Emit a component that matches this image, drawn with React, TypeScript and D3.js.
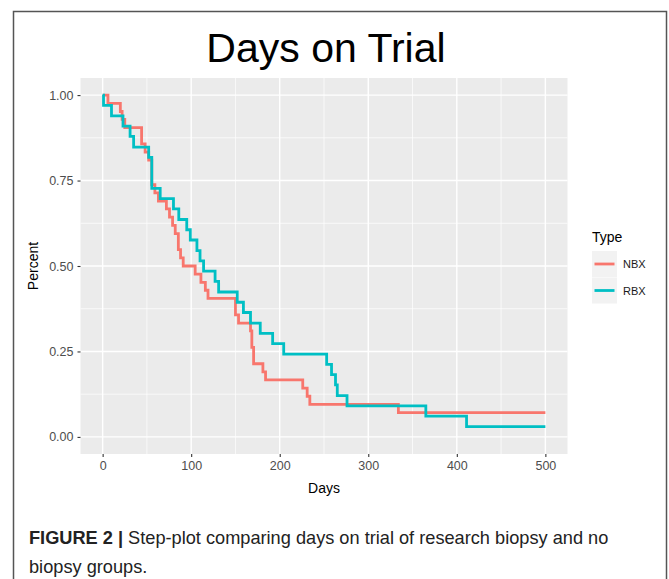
import React, { useEffect, useRef } from 'react';
import * as d3 from 'd3';

// Kaplan-Meier style step data (time in days, fraction remaining)
const nbxDays = [0, 6, 20, 22, 25, 44, 48, 52, 55.5, 59, 63, 72, 75.5, 79, 82, 85.5, 88, 91, 104.5, 111, 116, 119, 150, 153.5, 167, 168.5, 170.5, 181, 184, 226, 231, 234, 334, 500];
const nbxPct = [1.0, 0.976, 0.952, 0.929, 0.905, 0.857, 0.833, 0.81, 0.738, 0.714, 0.69, 0.667, 0.643, 0.619, 0.595, 0.548, 0.524, 0.5, 0.476, 0.452, 0.429, 0.405, 0.357, 0.333, 0.31, 0.262, 0.214, 0.19, 0.167, 0.143, 0.119, 0.095, 0.071, 0.071];

const rbxDays = [0, 1, 10, 23, 31, 35, 52, 55.5, 65, 80, 86, 95, 99, 106.5, 110, 114, 127, 131, 152, 159, 167, 178, 192, 204.5, 253, 258.5, 263, 265, 276, 365, 411, 500];
const rbxPct = [1.0, 0.97, 0.939, 0.909, 0.879, 0.848, 0.818, 0.727, 0.697, 0.667, 0.636, 0.606, 0.576, 0.545, 0.515, 0.485, 0.455, 0.424, 0.394, 0.364, 0.333, 0.303, 0.273, 0.242, 0.212, 0.182, 0.152, 0.121, 0.091, 0.061, 0.03, 0.03];

const seriesNames = ['NBX', 'RBX'];
const seriesColors = ['#F8766D', '#00BFC4'];
const xTicks = [0, 100, 200, 300, 400, 500];
const xMinor = [50, 150, 250, 350, 450];
const yTicks = [0, 0.25, 0.5, 0.75, 1];
const yMinor = [0.125, 0.375, 0.625, 0.875];

const W = 669;
const H = 579;

const App = () => {
  const ref = useRef<SVGSVGElement>(null);

  useEffect(() => {
    const svg = d3.select(ref.current);
    svg.selectAll('*').remove();

    const font = "'Liberation Sans', Arial, sans-serif";

    // figure frame
    svg.append('rect')
      .attr('x', 13.5).attr('y', 11.5)
      .attr('width', 653).attr('height', 600)
      .attr('fill', 'white')
      .attr('stroke', '#555')
      .attr('stroke-width', 1.5);

    // panel
    const panel = { left: 80.5, right: 567.5, top: 78, bottom: 454 };
    const x = d3.scaleLinear().domain([-25, 525]).range([panel.left, panel.right]);
    const y = d3.scaleLinear().domain([-0.05, 1.05]).range([panel.bottom, panel.top]);

    svg.append('rect')
      .attr('x', panel.left).attr('y', panel.top)
      .attr('width', panel.right - panel.left)
      .attr('height', panel.bottom - panel.top)
      .attr('fill', '#EBEBEB');

    const grid = svg.append('g');
    grid.selectAll('.xminor').data(xMinor).enter().append('line')
      .attr('x1', d => x(d)).attr('x2', d => x(d))
      .attr('y1', panel.top).attr('y2', panel.bottom)
      .attr('stroke', 'white').attr('stroke-width', 0.7);
    grid.selectAll('.yminor').data(yMinor).enter().append('line')
      .attr('y1', d => y(d)).attr('y2', d => y(d))
      .attr('x1', panel.left).attr('x2', panel.right)
      .attr('stroke', 'white').attr('stroke-width', 0.7);
    grid.selectAll('.xmajor').data(xTicks).enter().append('line')
      .attr('x1', d => x(d)).attr('x2', d => x(d))
      .attr('y1', panel.top).attr('y2', panel.bottom)
      .attr('stroke', 'white').attr('stroke-width', 1.4);
    grid.selectAll('.ymajor').data(yTicks).enter().append('line')
      .attr('y1', d => y(d)).attr('y2', d => y(d))
      .attr('x1', panel.left).attr('x2', panel.right)
      .attr('stroke', 'white').attr('stroke-width', 1.4);

    // step lines
    const line = d3.line<[number, number]>()
      .x(d => x(d[0]))
      .y(d => y(d[1]))
      .curve(d3.curveStepAfter);

    const series = [
      nbxDays.map((d, i) => [d, nbxPct[i]] as [number, number]),
      rbxDays.map((d, i) => [d, rbxPct[i]] as [number, number]),
    ];
    series.forEach((pts, i) => {
      svg.append('path')
        .attr('d', line(pts))
        .attr('fill', 'none')
        .attr('stroke', seriesColors[i])
        .attr('stroke-width', 2.8);
    });

    // axes
    const xAxis = svg.append('g')
      .attr('transform', `translate(0,${panel.bottom})`)
      .call(d3.axisBottom(x).tickValues(xTicks).tickSize(3).tickPadding(4).tickFormat(d3.format('d')));
    const yAxis = svg.append('g')
      .attr('transform', `translate(${panel.left},0)`)
      .call(d3.axisLeft(y).tickValues(yTicks).tickSize(3).tickPadding(4).tickFormat(d3.format('.2f')));
    [xAxis, yAxis].forEach(ax => {
      ax.select('.domain').remove();
      ax.selectAll('line').attr('stroke', '#333').attr('stroke-width', 1.1);
      ax.selectAll('text')
        .attr('fill', '#4D4D4D')
        .style('font-family', font)
        .style('font-size', '12.5px');
    });

    // titles
    svg.append('text')
      .attr('x', (panel.left + panel.right) / 2 + 2)
      .attr('y', 62)
      .attr('text-anchor', 'middle')
      .style('font-family', font)
      .style('font-size', '41px')
      .text('Days on Trial');

    svg.append('text')
      .attr('x', (panel.left + panel.right) / 2)
      .attr('y', 493)
      .attr('text-anchor', 'middle')
      .style('font-family', font)
      .style('font-size', '14px')
      .text('Days');

    svg.append('text')
      .attr('transform', `translate(38,${(panel.top + panel.bottom) / 2}) rotate(-90)`)
      .attr('text-anchor', 'middle')
      .style('font-family', font)
      .style('font-size', '14px')
      .text('Percent');

    // legend
    const legend = svg.append('g').attr('transform', 'translate(592,0)');
    legend.append('text')
      .attr('x', 0).attr('y', 242)
      .style('font-family', font)
      .style('font-size', '14px')
      .text('Type');
    seriesNames.forEach((name, i) => {
      const cy = 264 + i * 26.5;
      legend.append('rect')
        .attr('x', 0).attr('y', cy - 13)
        .attr('width', 25).attr('height', 26)
        .attr('fill', '#F2F2F2');
      legend.append('line')
        .attr('x1', 2.5).attr('x2', 22.5)
        .attr('y1', cy).attr('y2', cy)
        .attr('stroke', seriesColors[i])
        .attr('stroke-width', 2.8);
      legend.append('text')
        .attr('x', 31).attr('y', cy + 4)
        .style('font-family', font)
        .style('font-size', '11px')
        .attr('fill', '#1a1a1a')
        .text(name);
    });

    // caption
    const cap = svg.append('text')
      .attr('x', 29).attr('y', 544)
      .style('font-family', font)
      .style('font-size', '18.2px')
      .attr('fill', '#222');
    cap.append('tspan').style('font-weight', 'bold').text('FIGURE 2 | ');
    cap.append('tspan').text('Step-plot comparing days on trial of research biopsy and no');
    svg.append('text')
      .attr('x', 29).attr('y', 573)
      .style('font-family', font)
      .style('font-size', '18.2px')
      .attr('fill', '#222')
      .text('biopsy groups.');
  }, []);

  return (
    <svg
      ref={ref}
      width={W}
      height={H}
      style={{ position: 'absolute', left: 0, top: 0, display: 'block' }}
    />
  );
};

export default App;
